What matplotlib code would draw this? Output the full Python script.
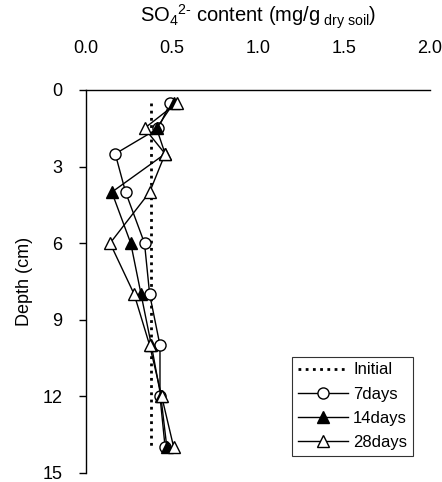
import matplotlib
matplotlib.use("Agg")
import matplotlib.pyplot as plt

plt.rcParams['font.family'] = ['Liberation Sans', 'DejaVu Sans']
plt.rcParams['mathtext.fontset'] = 'custom'
plt.rcParams['mathtext.rm'] = 'Liberation Sans'
plt.rcParams['mathtext.it'] = 'Liberation Sans'
plt.rcParams['mathtext.bf'] = 'Liberation Sans'

depth = [0.5, 1.5, 2.5, 4, 6, 8, 10, 12, 14]
initial_depth = [0.5, 14]
initial_val = [0.38, 0.38]
d7 = [0.49, 0.42, 0.17, 0.23, 0.34, 0.37, 0.43, 0.43, 0.46]
d14 = [0.51, 0.41, 0.46, 0.15, 0.26, 0.32, 0.38, 0.435, 0.47]
d28 = [0.53, 0.34, 0.46, 0.37, 0.14, 0.28, 0.37, 0.44, 0.51]
xticks = [0.0, 0.5, 1.0, 1.5, 2.0]
yticks = [0, 3, 6, 9, 12, 15]

fig = plt.figure(figsize=(4.42, 4.82), dpi=100)
ax = fig.add_axes([0.1946, 0.0187, 0.7784, 0.7946])

ax.plot(initial_val, initial_depth, linestyle=(0, (1.0, 1.6)), color='black', lw=2.0, label='Initial')
ax.plot(d7, depth, '-o', color='black', mfc='white', mec='black', ms=8, lw=1, label='7days')
ax.plot(d14, depth, '-^', color='black', mfc='black', mec='black', ms=9, lw=1, label='14days')
ax.plot(d28, depth, '-^', color='black', mfc='white', mec='black', ms=9, lw=1, label='28days')

ax.set_xlim(0, 2.0)
ax.set_ylim(15, 0)
ax.xaxis.set_ticks_position('top')
ax.xaxis.set_label_position('top')
ax.set_xticks(xticks)
ax.set_xticklabels([f"{v:.1f}" for v in xticks])
ax.set_yticks(yticks)
ax.tick_params(axis='x', length=0, labelsize=13, pad=24)
ax.tick_params(axis='y', direction='out', length=5, width=1, labelsize=13, pad=12)
for s in ['right', 'bottom']:
    ax.spines[s].set_visible(False)
for s in ['top', 'left']:
    ax.spines[s].set_linewidth(1)

ax.set_xlabel(r'SO$_4$$^{2\text{-}}$ content (mg/g$_{\mathrm{\ dry\ soil}}$)', fontsize=14.5, labelpad=12)
ax.set_ylabel('Depth (cm)', fontsize=13, labelpad=7)

leg = ax.legend(loc='lower right', bbox_to_anchor=(0.95, 0.045), frameon=True, fancybox=False,
                edgecolor='black', fontsize=12, handlelength=3.0, handletextpad=0.3,
                labelspacing=0.55, borderpad=0.35, borderaxespad=0)
leg.get_frame().set_linewidth(0.8)

fig.savefig('out.png', dpi=100)
